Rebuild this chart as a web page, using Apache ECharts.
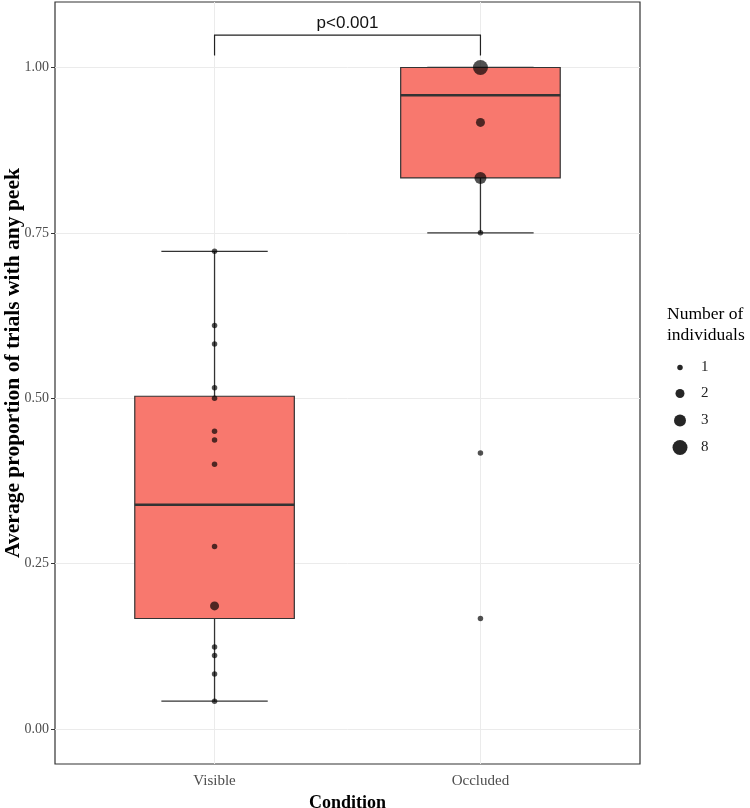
<!DOCTYPE html>
<html><head><meta charset="utf-8">
<script src="https://cdn.jsdelivr.net/npm/echarts@6/dist/echarts.min.js"></script>
<style>html,body{margin:0;padding:0;background:#fff}#c{width:750px;height:808px}</style>
</head><body><div id="c"></div>
<script>
// ---------- data ----------
const categories = ['Visible', 'Occluded'];
const yTicks = [0, 0.25, 0.5, 0.75, 1.0];
// box statistics: [lower whisker, Q1, median, Q3, upper whisker]
const boxVisible = [0.042, 0.167, 0.339, 0.503, 0.722];
const boxOccluded = [0.750, 0.833, 0.958, 1.000, 1.000];
// individual points (value, number of individuals)
const visibleValues = [0.722, 0.610, 0.582, 0.516, 0.500, 0.450, 0.437, 0.400, 0.276, 0.186, 0.124, 0.111, 0.083, 0.042];
const visibleCounts = [1, 1, 1, 1, 1, 1, 1, 1, 1, 2, 1, 1, 1, 1];
const occludedValues = [1.000, 0.917, 0.833, 0.750, 0.417, 0.167];
const occludedCounts = [8, 2, 3, 1, 1, 1];
const countLevels = [1, 2, 3, 8];
const comparison = [1, 2]; // categories compared (1-based)
const pValueLabel = 'p<0.001';
const bracketLevels = [1.049, 1.018]; // bracket top, bracket ends

// ---------- styles ----------
const SERIF = '"Liberation Serif","DejaVu Serif",serif';
const SANS = '"Liberation Sans","DejaVu Sans",sans-serif';
const symbolSizeFor = {1: 5.5, 2: 9, 3: 12, 8: 15};
const legendCenters = [367.5, 393.5, 420.5, 447.5];
const pointColor = 'rgba(0,0,0,0.85)';
const boxFill = '#F8786E';
const ink = '#333333';

const chart = echarts.init(document.getElementById('c'), null, {renderer: 'canvas'});

const groups = [
  {values: visibleValues, counts: visibleCounts},
  {values: occludedValues, counts: occludedCounts}
];

const pointSeries = countLevels.map(level => {
  const data = [];
  groups.forEach((g, gi) => {
    g.values.forEach((v, i) => { if (g.counts[i] === level) data.push([gi + 1, v]); });
  });
  return {
    name: String(level), type: 'scatter', data: data, z: 5,
    symbol: 'circle', symbolSize: symbolSizeFor[level],
    itemStyle: {color: pointColor},
    silent: true
  };
});

function renderBox(params, api) {
  const x = api.value(0);
  const lo = api.value(1), q1 = api.value(2), med = api.value(3), q3 = api.value(4), hi = api.value(5);
  const halfBox = 0.3, halfCap = 0.2;
  const c = (a, b) => api.coord([a, b]);
  const line = (p1, p2, w) => ({type: 'line', shape: {x1: p1[0], y1: p1[1], x2: p2[0], y2: p2[1]},
    style: {stroke: ink, lineWidth: w}});
  const tl = c(x - halfBox, q3), br = c(x + halfBox, q1);
  return {type: 'group', children: [
    line(c(x - halfCap, lo), c(x + halfCap, lo), 1.3),
    line(c(x - halfCap, hi), c(x + halfCap, hi), 1.3),
    line(c(x, lo), c(x, hi), 1.3),
    {type: 'rect', shape: {x: tl[0], y: tl[1], width: br[0] - tl[0], height: br[1] - tl[1]},
      style: {fill: boxFill, stroke: ink, lineWidth: 1.2}},
    line(c(x - halfBox, med), c(x + halfBox, med), 2.4)
  ]};
}

function renderBracket(params, api) {
  const x1 = api.value(0), x2 = api.value(1), yTop = api.value(2), yEnd = api.value(3);
  const a = api.coord([x1, yEnd]), b = api.coord([x1, yTop]), cc = api.coord([x2, yTop]), d = api.coord([x2, yEnd]);
  return {type: 'group', children: [
    {type: 'polyline', shape: {points: [a, b, cc, d]}, style: {stroke: '#222', lineWidth: 1.2, fill: null}},
    {type: 'text', x: (b[0] + cc[0]) / 2, y: b[1] - 12,
      style: {text: pValueLabel, font: '17px ' + SANS, fill: '#111', align: 'center', verticalAlign: 'middle'}}
  ]};
}

const legendGraphics = countLevels.map((level, i) => ({
  type: 'group', silent: true,
  children: [
    {type: 'circle', shape: {cx: 680, cy: legendCenters[i], r: symbolSizeFor[level] / 2},
      style: {fill: pointColor}},
    {type: 'text', x: 701, y: legendCenters[i],
      style: {text: String(level), font: '15px ' + SERIF, fill: '#222', verticalAlign: 'middle', align: 'left'}}
  ]
}));

const option = {
  backgroundColor: '#fff',
  animation: false,
  title: {text: 'Number of\nindividuals', left: 662, top: 299,
    textStyle: {fontFamily: SERIF, fontSize: 17.5, fontWeight: 'normal', color: '#000', lineHeight: 21}},
  graphic: legendGraphics,
  grid: {left: 55, right: 110, top: 2, bottom: 44, show: true, borderColor: ink, borderWidth: 1.2,
    backgroundColor: 'transparent', outerBoundsMode: 'none', containLabel: false},
  xAxis: {
    type: 'value', min: 0.4, max: 2.6,
    axisLine: {show: false},
    axisTick: {show: true, customValues: [1, 2], length: 4, lineStyle: {color: ink}},
    axisLabel: {customValues: [1, 2], formatter: v => categories[Math.round(v) - 1] || '',
      fontFamily: SERIF, fontSize: 15, color: '#4D4D4D', margin: 10},
    splitLine: {show: false},
    name: 'Condition', nameLocation: 'middle', nameGap: 30,
    nameTextStyle: {fontFamily: SERIF, fontSize: 18, fontWeight: 'bold', color: '#000'}
  },
  yAxis: {
    type: 'value', min: -0.053, max: 1.099,
    axisLine: {show: false},
    axisTick: {show: true, customValues: yTicks, length: 4, lineStyle: {color: ink}},
    axisLabel: {customValues: yTicks, formatter: v => v.toFixed(2),
      fontFamily: SERIF, fontSize: 14, color: '#4D4D4D', margin: 6},
    splitLine: {show: false},
    name: 'Average proportion of trials with any peek', nameLocation: 'middle', nameGap: 31,
    nameMoveOverlap: false,
    nameTextStyle: {fontFamily: SERIF, fontSize: 21.5, fontWeight: 'bold', color: '#000', padding: [0, 0, 0, 40]}
  },
  series: [
    {
      type: 'scatter', data: [], silent: true, z: 0,
      markLine: {
        silent: true, symbol: 'none', animation: false, z: 1,
        label: {show: false},
        lineStyle: {color: '#EBEBEB', width: 1, type: 'solid'},
        data: yTicks.map(v => ({yAxis: v})).concat(categories.map((c, i) => ({xAxis: i + 1})))
      }
    },
    {
      type: 'custom', z: 2, silent: true,
      renderItem: renderBox,
      encode: {x: 0, y: [1, 2, 3, 4, 5]},
      data: [[1].concat(boxVisible), [2].concat(boxOccluded)]
    },
    {
      type: 'custom', z: 3, silent: true,
      renderItem: renderBracket,
      encode: {x: [0, 1], y: [2, 3]},
      data: [[comparison[0], comparison[1], bracketLevels[0], bracketLevels[1]]]
    }
  ].concat(pointSeries)
};
chart.setOption(option);
</script>
</body></html>
